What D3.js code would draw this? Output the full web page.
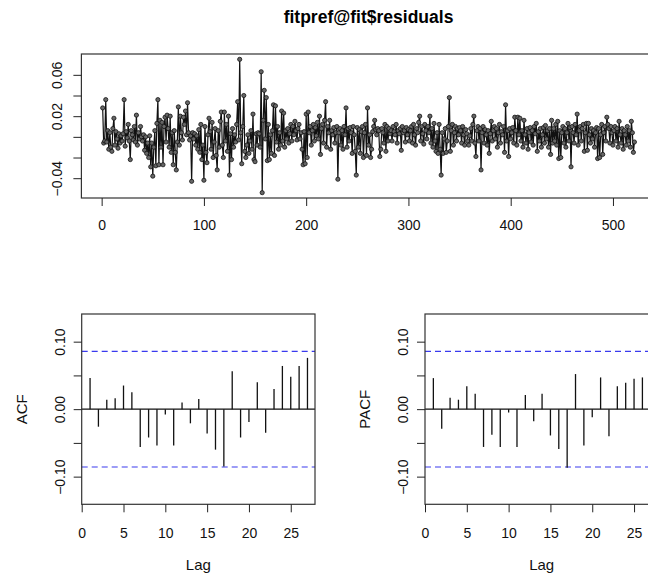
<!DOCTYPE html>
<html>
<head>
<meta charset="utf-8">
<script src="https://cdn.jsdelivr.net/npm/d3@7"></script>
<style>
  body { margin: 0; background: #fff; }
  svg { display: block; font-family: "Liberation Sans", Arial, sans-serif; }
</style>
</head>
<body>
<svg id="chart"></svg>
<script>
const resid = [
  0.028, -0.006, -0.004, 0.036, -0.005, 0.006, -0.012, 0.004, -0.010, -0.014,
  0.008, 0.018, -0.008, 0.005, -0.002, -0.011, 0.003, -0.006, 0.001, -0.004,
  0.003, 0.036, -0.009, 0.005, -0.001, 0.012, -0.004, -0.022, 0.006, 0.002,
  -0.003, 0.010, -0.005, 0.021, -0.008, 0.004, -0.002, 0.010, 0.000, -0.004,
  0.002, -0.013, 0.000, -0.016, -0.006, -0.020, 0.001, -0.029, -0.006, -0.038,
  -0.010, 0.006, -0.028, 0.013, 0.036, -0.027, 0.016, -0.010, 0.014, -0.027,
  0.010, 0.019, -0.005, 0.021, 0.008, -0.010, 0.020, -0.015, 0.004, -0.027,
  0.006, -0.015, -0.032, -0.005, 0.029, -0.008, 0.020, 0.004, -0.003, 0.019,
  0.012, 0.025, 0.002, 0.033, 0.004, -0.003, 0.001, -0.043, 0.004, -0.002,
  0.003, -0.008, 0.001, -0.012, 0.007, -0.015, 0.012, -0.022, -0.008, -0.042,
  0.010, -0.015, -0.025, 0.002, 0.018, 0.005, -0.012, 0.014, -0.020, -0.005,
  0.008, -0.018, -0.032, 0.006, -0.010, 0.015, 0.024, -0.008, -0.020, 0.024,
  -0.004, 0.012, -0.014, 0.020, -0.037, 0.003, -0.022, 0.008, -0.010, 0.002,
  -0.005, 0.012, 0.034, -0.003, 0.075, 0.004, -0.026, 0.010, 0.040, -0.014,
  -0.020, -0.008, 0.002, -0.016, -0.004, 0.006, -0.012, 0.022, -0.022, -0.024,
  0.003, -0.008, 0.004, 0.003, -0.010, 0.063, -0.054, 0.016, 0.045, -0.002,
  0.038, -0.023, 0.012, -0.022, 0.002, -0.016, 0.006, 0.031, -0.018, 0.030,
  -0.005, 0.010, -0.012, 0.004, -0.008, 0.025, -0.004, 0.023, -0.010, 0.006,
  -0.002, 0.008, -0.006, 0.003, 0.012, -0.004, 0.010, 0.002, 0.015, 0.006,
  -0.003, 0.008, 0.012, -0.002, 0.004, -0.012, -0.027, 0.005, -0.026, 0.022,
  -0.020, 0.024, 0.004, 0.010, -0.008, 0.006, 0.012, -0.004, 0.009, 0.001,
  0.014, -0.002, 0.020, -0.017, 0.008, 0.012, -0.006, 0.016, 0.034, -0.010,
  0.010, 0.004, 0.016, -0.012, 0.006, 0.002, 0.009, -0.006, 0.004, 0.010,
  -0.041, 0.004, 0.008, -0.008, 0.006, -0.012, 0.010, 0.002, 0.028, -0.010,
  0.008, -0.004, 0.009, 0.004, -0.016, 0.010, 0.002, -0.014, -0.037, 0.009,
  -0.010, 0.007, -0.016, 0.005, 0.010, -0.020, 0.004, 0.012, -0.018, 0.028,
  -0.008, 0.002, -0.020, -0.012, 0.005, 0.010, 0.016, 0.007, 0.002, 0.008,
  0.006, -0.019, -0.012, 0.008, 0.004, -0.006, 0.012, -0.014, 0.010, -0.004,
  0.008, 0.003, 0.006, -0.004, 0.010, 0.005, 0.002, 0.012, -0.006, 0.006,
  0.003, 0.008, -0.013, 0.010, 0.004, 0.006, -0.005, 0.009, 0.002, 0.007,
  -0.004, 0.006, 0.010, -0.006, 0.012, 0.002, -0.008, 0.008, 0.004, 0.014,
  0.020, -0.004, 0.010, 0.003, -0.007, 0.012, 0.006, -0.002, 0.010, 0.004,
  0.020, -0.006, 0.008, -0.010, 0.013, -0.004, -0.014, 0.004, -0.016, 0.012,
  -0.012, -0.037, 0.004, -0.016, -0.002, 0.008, -0.015, -0.004, 0.010, 0.038,
  -0.014, 0.006, 0.012, -0.008, 0.004, 0.010, -0.004, 0.008, 0.002, 0.009,
  0.006, -0.006, 0.010, 0.002, -0.008, 0.007, 0.003, -0.004, -0.008, 0.001,
  0.008, -0.004, 0.012, 0.020, -0.006, -0.019, 0.006, 0.010, -0.004, 0.008,
  -0.032, 0.004, 0.010, -0.006, 0.007, 0.002, -0.008, 0.006, -0.016, 0.003,
  0.015, -0.004, 0.006, 0.010, -0.002, 0.008, -0.010, 0.004, 0.012, -0.006,
  0.005, 0.002, 0.010, -0.015, 0.031, -0.004, 0.006, -0.019, 0.008, -0.002,
  0.004, 0.009, -0.006, 0.019, 0.006, -0.008, 0.019, 0.002, 0.018, -0.004,
  0.006, -0.010, 0.016, 0.002, -0.006, 0.008, -0.012, 0.004, 0.009, -0.005,
  0.006, -0.008, 0.010, 0.003, 0.013, -0.014, 0.005, -0.004, 0.008, -0.010,
  0.002, 0.009, -0.006, 0.011, -0.002, 0.006, -0.010, 0.008, -0.017, 0.016,
  -0.006, 0.008, -0.004, 0.012, -0.008, 0.015, -0.021, 0.006, -0.020, 0.004,
  0.010, -0.006, 0.008, -0.010, 0.004, 0.013, -0.004, 0.009, -0.029, 0.010,
  0.004, -0.006, 0.012, 0.002, 0.022, -0.008, 0.006, 0.010, -0.004, 0.008,
  0.012, -0.014, 0.004, 0.013, -0.013, 0.013, 0.002, -0.006, 0.008, -0.002,
  0.006, -0.010, 0.004, 0.009, -0.021, 0.008, -0.020, 0.002, 0.012, -0.017,
  0.004, 0.010, -0.004, 0.019, 0.012, 0.008, -0.006, 0.010, 0.004, -0.008,
  0.006, 0.010, -0.004, 0.008, -0.010, 0.015, 0.002, -0.006, 0.008, -0.012,
  0.006, 0.002, -0.008, 0.010, -0.004, 0.006, -0.010, 0.015, 0.004, -0.015,
  -0.005
];

const lags = [1, 2, 3, 4, 5, 6, 7, 8, 9, 10, 11, 12, 13, 14, 15, 16, 17, 18, 19, 20, 21, 22, 23, 24, 25, 26, 27];
const acfVals = [
  0.046, -0.026, 0.014, 0.016, 0.035, 0.025, -0.056, -0.042, -0.054, -0.008,
  -0.054, 0.010, -0.021, 0.015, -0.036, -0.060, -0.085, 0.056, -0.042, -0.019,
  0.040, -0.035, 0.030, 0.064, 0.048, 0.064, 0.076
];
const pacfVals = [
  0.046, -0.029, 0.017, 0.014, 0.034, 0.023, -0.056, -0.038, -0.056, -0.005,
  -0.056, 0.021, -0.018, 0.023, -0.039, -0.059, -0.087, 0.052, -0.054, -0.012,
  0.047, -0.040, 0.034, 0.039, 0.045, 0.047, 0.050
];
const ciBound = 0.0857;   // 1.96 / sqrt(n)

const topXTicks = [0, 100, 200, 300, 400, 500];
const topYTicks = [-0.04, -0.02, 0, 0.02, 0.04, 0.06];
const topYLabels = [0.06, 0.02, -0.04];
const lagTicks = [0, 5, 10, 15, 20, 25];
const corYTicks = [-0.10, -0.05, 0, 0.05, 0.10];
const corYLabels = [-0.10, 0, 0.10];

const W = 648, H = 575;
const fontFamily = '"Liberation Sans", Arial, sans-serif';

const svg = d3.select('#chart')
  .attr('width', W)
  .attr('height', H);

svg.append('rect').attr('width', W).attr('height', H).attr('fill', '#fff');

// title
svg.append('text')
  .attr('x', 368.5)
  .attr('y', 23)
  .attr('text-anchor', 'middle')
  .attr('font-size', 17.5)
  .attr('font-weight', 'bold')
  .text('fitpref@fit$residuals');

function styleAxis(g) {
  g.attr('font-family', fontFamily).attr('font-size', 14);
  g.select('.domain').remove();
  g.selectAll('.tick line').attr('stroke', '#222');
  g.selectAll('.tick text').attr('fill', '#111');
}

// ---- top panel: residual series ----
const n = resid.length;
const idx = resid.map((d, i) => i + 1);
const pad = (n - 1) * 0.04;
const topX = d3.scaleLinear()
  .domain([1 - pad, n + pad])
  .range([81.4, 655.7]);

const rMin = d3.min(resid), rMax = d3.max(resid);
const rPad = (rMax - rMin) * 0.04;
const topY = d3.scaleLinear()
  .domain([rMin - rPad, rMax + rPad])
  .range([198, 54]);

const topPanel = svg.append('g');

topPanel.append('path')
  .datum(resid)
  .attr('fill', 'none')
  .attr('stroke', '#111')
  .attr('stroke-width', 1.2)
  .attr('d', d3.line().x((d, i) => topX(idx[i])).y(d => topY(d)));

topPanel.selectAll('circle')
  .data(resid)
  .enter()
  .append('circle')
  .attr('cx', (d, i) => topX(idx[i]))
  .attr('cy', d => topY(d))
  .attr('r', 2.1)
  .attr('fill', '#666')
  .attr('stroke', '#111')
  .attr('stroke-width', 0.8);

topPanel.append('rect')
  .attr('x', 81.4).attr('y', 54)
  .attr('width', 655.7 - 81.4).attr('height', 144)
  .attr('fill', 'none').attr('stroke', '#333').attr('stroke-width', 1.2);

topPanel.append('g')
  .attr('transform', 'translate(0,198)')
  .call(d3.axisBottom(topX).tickValues(topXTicks).tickSize(8).tickFormat(d3.format('d')))
  .call(styleAxis)
  .call(g => g.selectAll('.tick text').attr('y', 32).attr('dy', 0));

topPanel.append('g')
  .attr('transform', 'translate(81.4,0)')
  .call(d3.axisLeft(topY).tickValues(topYTicks).tickSize(8)
    .tickFormat(d => topYLabels.some(v => Math.abs(v - d) < 1e-9) ? d3.format('.2f')(d) : ''))
  .call(styleAxis)
  .call(g => g.selectAll('.tick text')
    .attr('transform', 'rotate(-90)')
    .attr('text-anchor', 'middle')
    .attr('x', 0).attr('y', -19.4).attr('dy', 0));

// ---- bottom panels: ACF and PACF ----
function corPanel(vals, left, label) {
  const x = d3.scaleLinear().domain([0, 27.9]).range([left, left + 233.3]);
  const y = d3.scaleLinear().domain([-0.141, 0.141]).range([504.3, 314]);
  const g = svg.append('g');

  g.append('line')
    .attr('x1', x(0)).attr('x2', x(27.9))
    .attr('y1', y(0)).attr('y2', y(0))
    .attr('stroke', '#111').attr('stroke-width', 1.2);

  [ciBound, -ciBound].forEach(b => {
    g.append('line')
      .attr('x1', x(0)).attr('x2', x(27.9))
      .attr('y1', y(b)).attr('y2', y(b))
      .attr('stroke', '#3a3aee').attr('stroke-width', 1.2)
      .attr('stroke-dasharray', '6,4');
  });

  g.selectAll('.bar')
    .data(vals)
    .enter()
    .append('line')
    .attr('class', 'bar')
    .attr('x1', (d, i) => x(lags[i])).attr('x2', (d, i) => x(lags[i]))
    .attr('y1', y(0)).attr('y2', d => y(d))
    .attr('stroke', '#111').attr('stroke-width', 1.3);

  g.append('rect')
    .attr('x', x(0)).attr('y', 314)
    .attr('width', x(27.9) - x(0)).attr('height', 504.3 - 314)
    .attr('fill', 'none').attr('stroke', '#333').attr('stroke-width', 1.2);

  g.append('g')
    .attr('transform', 'translate(0,504.3)')
    .call(d3.axisBottom(x).tickValues(lagTicks).tickSize(8))
    .call(styleAxis)
    .call(a => a.selectAll('.tick text').attr('y', 34).attr('dy', 0));

  g.append('g')
    .attr('transform', `translate(${left},0)`)
    .call(d3.axisLeft(y).tickValues(corYTicks).tickSize(8)
      .tickFormat(d => corYLabels.some(v => Math.abs(v - d) < 1e-9) ? d3.format('.2f')(d) : ''))
    .call(styleAxis)
    .call(a => a.selectAll('.tick text')
      .attr('transform', 'rotate(-90)')
      .attr('text-anchor', 'middle')
      .attr('x', 0).attr('y', -17).attr('dy', 0));

  g.append('text')
    .attr('x', (x(0) + x(27.9)) / 2)
    .attr('y', 570)
    .attr('text-anchor', 'middle')
    .attr('font-size', 15)
    .attr('fill', '#111')
    .text('Lag');

  g.append('text')
    .attr('transform', `translate(${left - 55},409.3) rotate(-90)`)
    .attr('text-anchor', 'middle')
    .attr('font-size', 15)
    .attr('fill', '#111')
    .text(label);
}

corPanel(acfVals, 81.7, 'ACF');
corPanel(pacfVals, 425, 'PACF');
</script>
</body>
</html>
